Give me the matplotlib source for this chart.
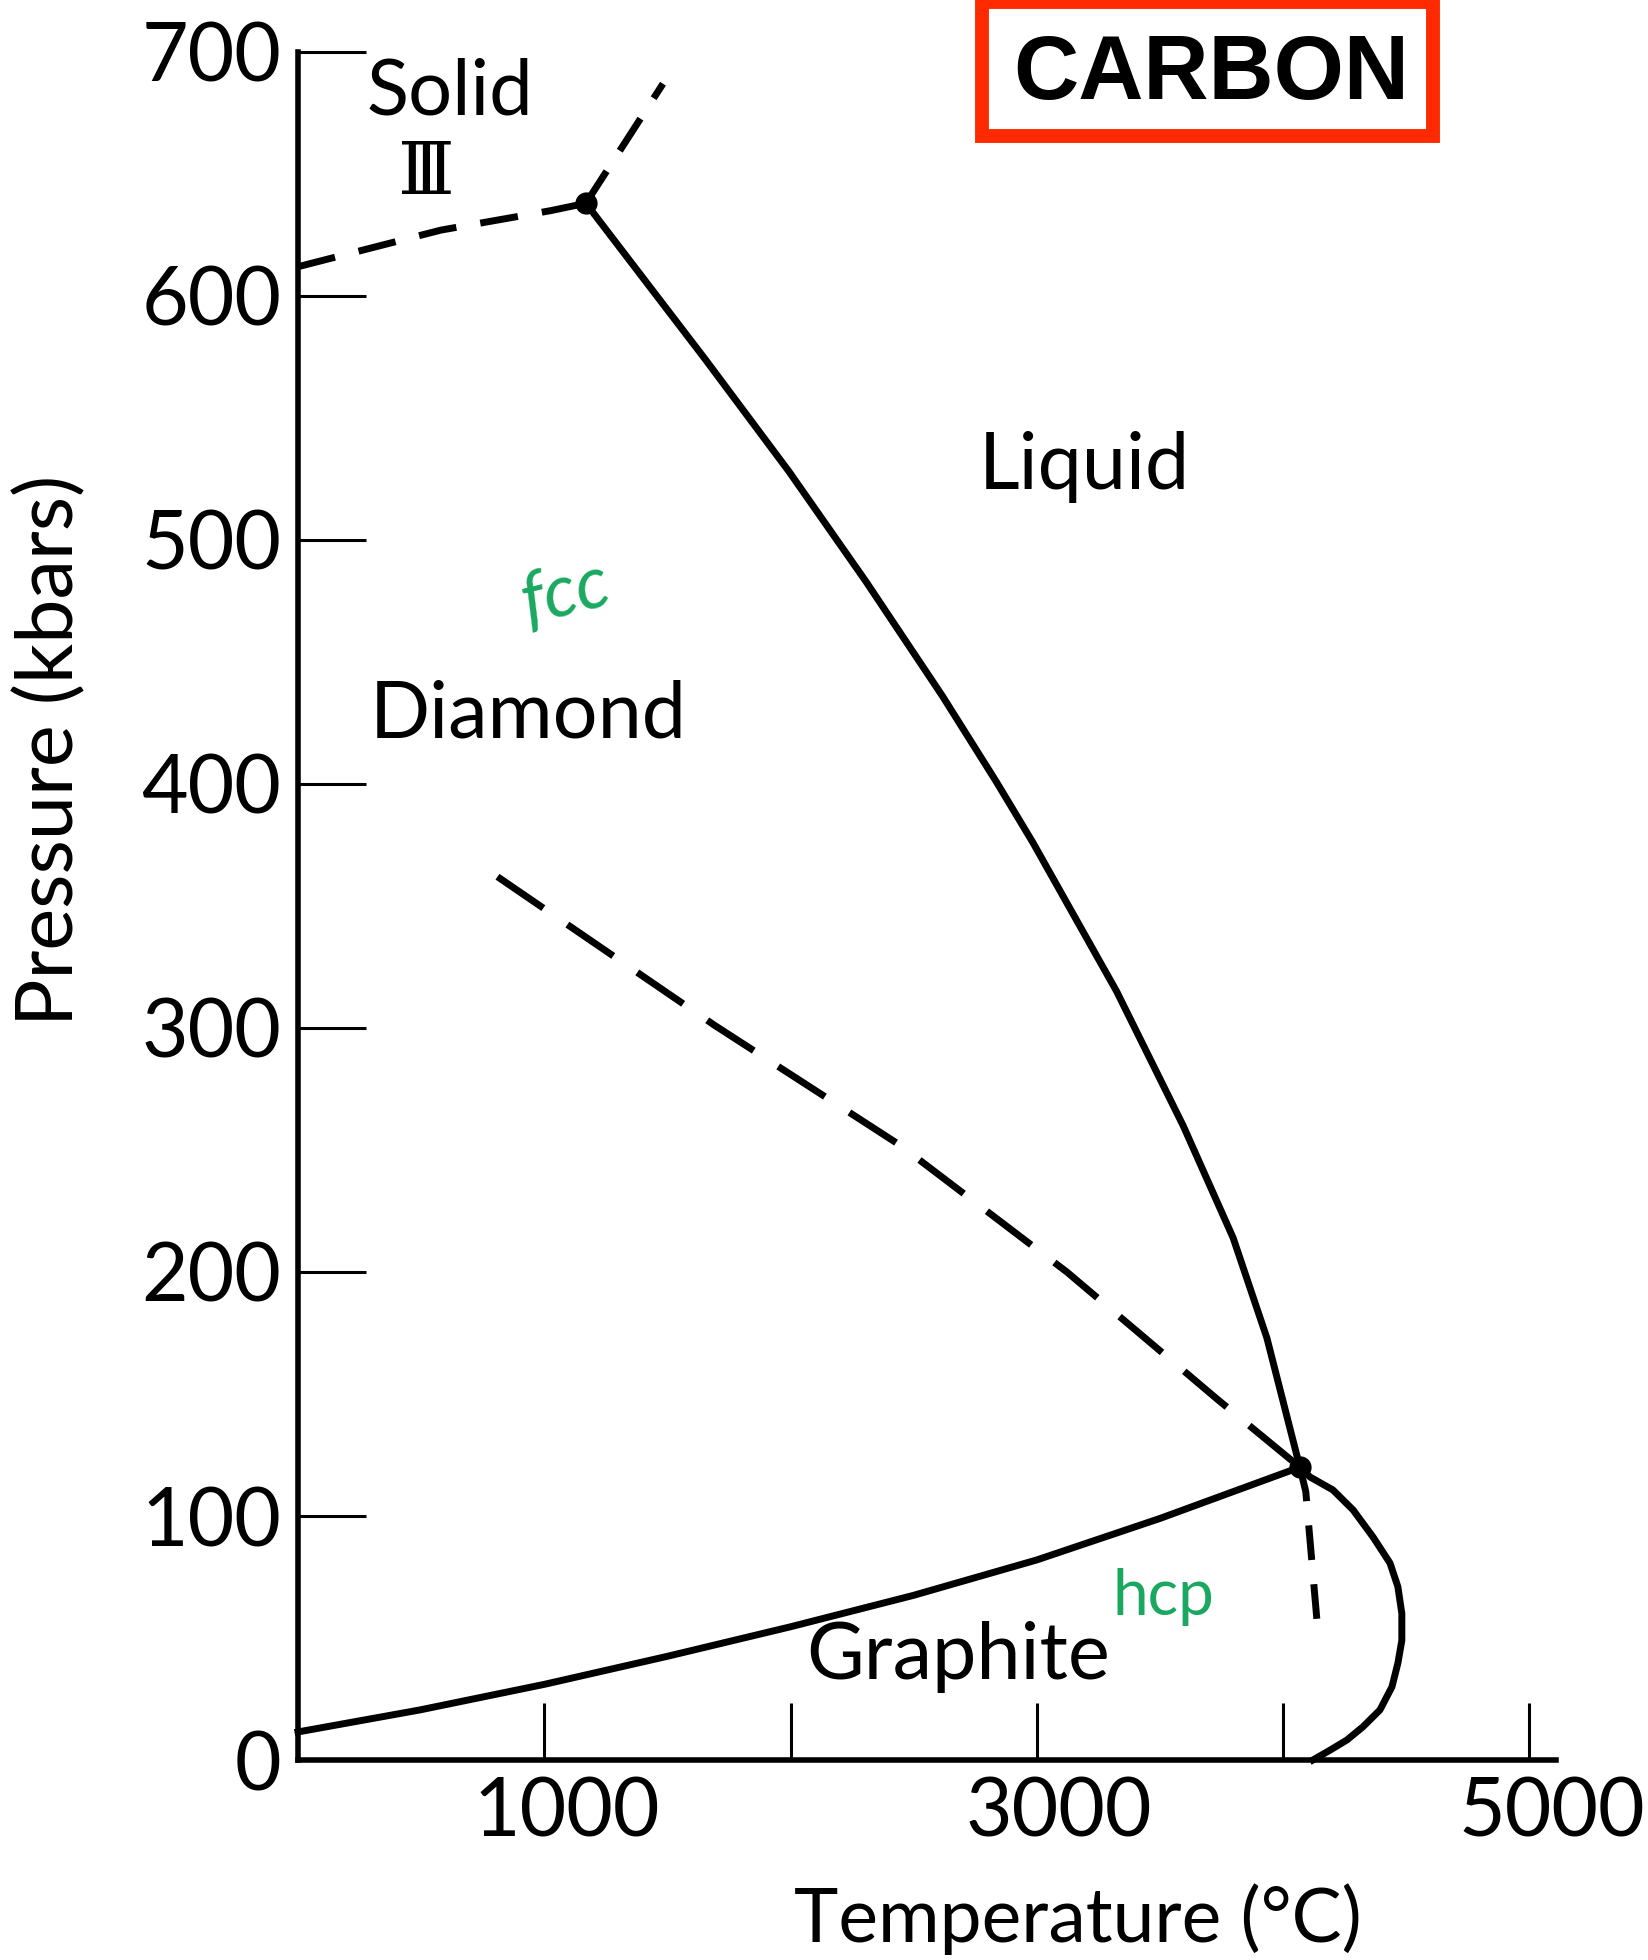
import matplotlib
matplotlib.use("Agg")
import matplotlib.pyplot as plt
from matplotlib.patches import Rectangle
from matplotlib.transforms import ScaledTranslation

# phase boundaries of carbon, (temperature in C, pressure in kbar)
melt_T = [1169, 1654, 1994, 2306, 2617, 2835, 2984, 3324, 3594, 3797, 3934, 4068]
melt_P = [638, 574, 528, 483, 436, 401, 376, 315, 260, 214, 173, 120]

graphite_T = [0, 494, 1000, 1500, 2000, 2500, 3000, 3500, 4068]
graphite_P = [11.5, 20.5, 31, 42.5, 54.6, 67.5, 82, 99, 120]

glmelt_T = [4068, 4109, 4202, 4284, 4365, 4434, 4466, 4482, 4482, 4466, 4442, 4393,
            4324, 4259, 4190, 4121]
glmelt_P = [120, 116, 110.7, 102.5, 91.4, 80.7, 71, 60, 49, 39.7, 30, 20.5,
            13.6, 8.2, 4, 0]

meta_T = [810, 1693, 2444, 3122, 3731, 4068]
meta_P = [362, 301, 252, 200, 148, 120]

meta_v_T = [4068, 4092, 4141]
meta_v_P = [120, 110, 53]

s3_T = [0, 580, 1027, 1169]
s3_P = [612, 627, 635, 638]

s3_up_T = [1169, 1482]
s3_up_P = [638, 687]

triple_T = [1169, 4068]
triple_P = [638, 120]

xticks = [1000, 2000, 3000, 4000, 5000]
xtick_labels = ['1000', '', '3000', '', '5000']
yticks = [0, 100, 200, 300, 400, 500, 600, 700]

font = 'Lato'
plt.rcParams['font.family'] = [font, 'DejaVu Sans']

fig = plt.figure(figsize=(16.48, 19.6), dpi=100)
ax = fig.add_axes([298/1648, 200/1960, 1258/1648, 1708/1960])
ax.set_xlim(0, 5108)
ax.set_ylim(0, 700)

lw = 5.0
ax.plot(melt_T, melt_P, color='black', lw=lw, clip_on=False, solid_joinstyle='round')
ax.plot(graphite_T, graphite_P, color='black', lw=lw, clip_on=False, solid_joinstyle='round')
ax.plot(glmelt_T, glmelt_P, color='black', lw=lw, clip_on=False, solid_joinstyle='round')
ax.plot(meta_T, meta_P, color='black', lw=lw, dashes=(8, 4.2), clip_on=False)
ax.plot(meta_v_T, meta_v_P, color='black', lw=lw, dashes=(5, 3.5), clip_on=False)
ax.plot(s3_T, s3_P, color='black', lw=lw, dashes=(5.5, 3.5), clip_on=False)
ax.plot(s3_up_T, s3_up_P, color='black', lw=lw, dashes=(5.5, 3.5), clip_on=False)
ax.plot(triple_T, triple_P, 'o', color='black', ms=15, clip_on=False)

for s in ['top', 'right']:
    ax.spines[s].set_visible(False)
for s in ['left', 'bottom']:
    ax.spines[s].set_linewidth(4.0)

ax.set_xticks(xticks)
ax.set_xticklabels(xtick_labels)
ax.set_yticks(yticks)
ax.tick_params(axis='x', direction='in', length=41, width=2.2, pad=12, labelsize=58)
ax.tick_params(axis='y', direction='in', length=49, width=2.2, pad=12, labelsize=58)
for lab in ax.get_xticklabels():
    lab.set_transform(lab.get_transform() + ScaledTranslation(0.22, 0, fig.dpi_scale_trans))

# region labels
ax.text(617, 683, 'Solid', fontsize=56, ha='center', va='center')
ax.text(520, 650, 'Ⅲ', fontsize=52, ha='center', va='center', family='DejaVu Serif')
ax.text(3191, 521, 'Liquid', fontsize=57, ha='center', va='baseline')
ax.text(934, 419, 'Diamond', fontsize=57, ha='center', va='baseline')
ax.text(2681, 33, 'Graphite', fontsize=57, ha='center', va='baseline')
ax.text(1084, 478, 'fcc', fontsize=52, ha='center', va='center', color='#1aa860',
        style='italic', rotation=14)
ax.text(3515, 67, 'hcp', fontsize=46, ha='center', va='center', color='#1aa860')

fig.text(1078/1648, 1 - 1919/1960, 'Temperature (°C)', fontsize=54, ha='center', va='center')
fig.text(51/1648, 1 - 750/1960, 'Pressure (kbars)', fontsize=57, ha='center', va='center',
         rotation=90)

# title box
fig.patches.append(Rectangle((982/1648, 1 - 136/1960), 451/1648, 134/1960,
                             transform=fig.transFigure, fill=False,
                             edgecolor='#ff2a00', lw=10))
fig.text(1211/1648, 1 - 76/1960, 'CARBON', fontsize=65, fontweight='bold',
         family='Liberation Sans', ha='center', va='center')

fig.savefig('out.png', dpi=100, facecolor='white')
